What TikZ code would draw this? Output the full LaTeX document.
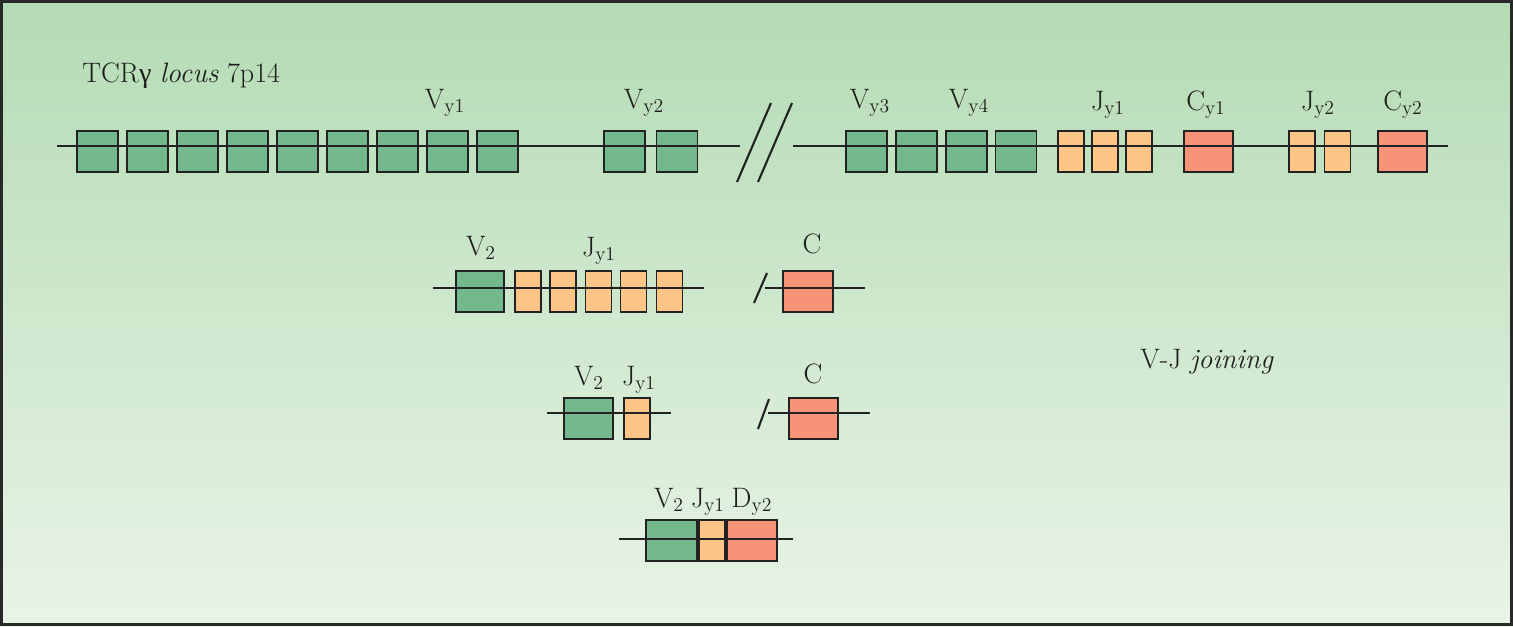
\documentclass[tikz,border=0pt]{standalone}
\usepackage{fontspec}
\newfontfamily\grk{Liberation Serif}
\definecolor{vgreen}{RGB}{116,185,142}
\definecolor{jorange}{RGB}{254,198,134}
\definecolor{cred}{RGB}{247,148,120}
\definecolor{linec}{RGB}{34,34,34}
\definecolor{textc}{RGB}{30,30,30}
\definecolor{bgtop}{RGB}{180,219,180}
\definecolor{bgbot}{RGB}{233,244,231}
\definecolor{framec}{RGB}{40,40,40}
\begin{document}
\begin{tikzpicture}[x=0.02cm,y=-0.02cm,
  box/.style={draw=linec, line width=1.1pt, inner sep=0pt, minimum height=0.82cm},
  vseg/.style={box, fill=vgreen, minimum width=0.82cm},
  jseg/.style={box, fill=jorange, minimum width=0.52cm},
  cseg/.style={box, fill=cred, minimum width=0.98cm},
  dna/.style={draw=linec, line width=1.2pt},
  brk/.style={draw=linec, line width=1.2pt},
  lbl/.style={font=\fontsize{16}{19}\selectfont, text=textc, inner sep=0pt, anchor=base},
]
\useasboundingbox (0,0) rectangle (1513,626);
\shade[top color=bgtop, bottom color=bgbot] (0,0) rectangle (1513,626);
\draw[draw=framec, line width=1.7pt] (1.5,1.5) rectangle (1511.5,624.5);

% ---- row 1: germline locus
\foreach \i/\x in {1/97.5,2/147.5,3/197.5,4/247.5,5/297.5,6/347.5,7/397.5,8/447.5,9/497.5}
  \node[vseg] (a\i) at (\x,151.5) {};
\node[vseg] (b1) at (624.5,151.5) {};
\node[vseg] (b2) at (677,151.5) {};
\node[vseg] (c1) at (866.5,151.5) {};
\node[vseg] (c2) at (916.5,151.5) {};
\node[vseg] (c3) at (966.5,151.5) {};
\node[vseg] (c4) at (1016,151.5) {};
\node[jseg] (j1) at (1071,151.5) {};
\node[jseg] (j2) at (1105,151.5) {};
\node[jseg] (j3) at (1139,151.5) {};
\node[cseg] (k1) at (1208.5,151.5) {};
\node[jseg] (j4) at (1302,151.5) {};
\node[jseg] (j5) at (1337.5,151.5) {};
\node[cseg] (k2) at (1402.5,151.5) {};
\coordinate (r1a) at (57,146);
\coordinate (r1b) at (740,146);
\coordinate (r1c) at (793,146);
\coordinate (r1d) at (1448,146);
\draw[dna] (r1a) -- (r1b);
\draw[dna] (r1c) -- (r1d);
\coordinate (s1a) at (737,182); \coordinate (s1b) at (771,103);
\coordinate (s2a) at (758,182); \coordinate (s2b) at (792,103);
\draw[brk] (s1a) -- (s1b);
\draw[brk] (s2a) -- (s2b);

\node[lbl, anchor=base west] (title) at (82,82) {TCR{\grk γ} \textit{locus} 7p14};
\node[lbl] (lv1) at (445,108) {V\textsubscript{y1}};
\node[lbl] (lv2) at (644,108) {V\textsubscript{y2}};
\node[lbl] (lv3) at (870,108) {V\textsubscript{y3}};
\node[lbl] (lv4) at (969,108) {V\textsubscript{y4}};
\node[lbl] (lj1) at (1108,110) {J\textsubscript{y1}};
\node[lbl] (lc1) at (1206,110) {C\textsubscript{y1}};
\node[lbl] (lj2) at (1318,110) {J\textsubscript{y2}};
\node[lbl] (lc2) at (1403,110) {C\textsubscript{y2}};

% ---- row 2
\node[vseg, minimum width=0.96cm] (m1) at (480,291.5) {};
\foreach \i/\x in {1/528,2/563,3/598.5,4/633.5,5/669.5}
  \node[jseg] (mj\i) at (\x,291.5) {};
\node[cseg, minimum width=1.0cm] (mc) at (808,291.5) {};
\coordinate (r2a) at (433,288); \coordinate (r2b) at (704,288);
\coordinate (r2c) at (765,288); \coordinate (r2d) at (865,288);
\draw[dna] (r2a) -- (r2b);
\draw[dna] (r2c) -- (r2d);
\coordinate (s3a) at (754,303); \coordinate (s3b) at (767,273);
\draw[brk] (s3a) -- (s3b);
\node[lbl] (l2v) at (481,255) {V\textsubscript{2}};
\node[lbl] (l2j) at (599,256) {J\textsubscript{y1}};
\node[lbl] (l2c) at (812,253) {C};

% ---- row 3
\node[vseg, minimum width=0.98cm] (n1) at (588.5,418.5) {};
\node[jseg] (nj) at (637,418.5) {};
\node[cseg] (nc) at (813.5,418.5) {};
\coordinate (r3a) at (547,413); \coordinate (r3b) at (671,413);
\coordinate (r3c) at (768,413); \coordinate (r3d) at (870,413);
\draw[dna] (r3a) -- (r3b);
\draw[dna] (r3c) -- (r3d);
\coordinate (s4a) at (758,429); \coordinate (s4b) at (769,399);
\draw[brk] (s4a) -- (s4b);
\node[lbl] (l3v) at (589,385) {V\textsubscript{2}};
\node[lbl] (l3j) at (639,385) {J\textsubscript{y1}};
\node[lbl] (l3c) at (813,383) {C};

\node[lbl] (vj) at (1207,368) {V-J \textit{joining}};

% ---- row 4
\node[vseg, minimum width=1.02cm, anchor=west] (f1) at (645,540.5) {};
\node[jseg, anchor=west] (f2) at (f1.east) {};
\node[cseg, minimum width=1.0cm, anchor=west] (f3) at (f2.east) {};
\draw[linec, line width=2.2pt] (f1.north east) -- (f1.south east);
\draw[linec, line width=1.6pt] (f2.north east) -- (f2.south east);
\coordinate (r4a) at (619,539); \coordinate (r4b) at (793,539);
\draw[dna] (r4a) -- (r4b);
\node[lbl] (l4v) at (669,507) {V\textsubscript{2}};
\node[lbl] (l4j) at (708,507) {J\textsubscript{y1}};
\node[lbl] (l4d) at (752,507) {D\textsubscript{y2}};
\end{tikzpicture}
\end{document}
